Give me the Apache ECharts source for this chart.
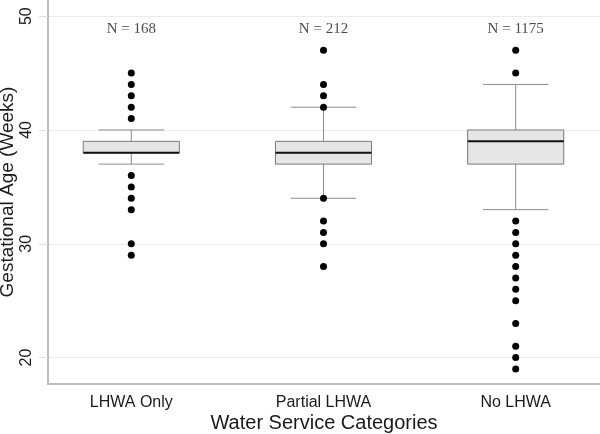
<!DOCTYPE html>
<html>
<head>
<meta charset="utf-8">
<script src="https://cdn.jsdelivr.net/npm/echarts@6/dist/echarts.min.js"></script>
<style>
  html, body { margin: 0; padding: 0; background: #fff; }
  #main { width: 600px; height: 434px; }
</style>
</head>
<body>
<div id="main"></div>
<script>
// values (weeks)
const categories = ['LHWA Only', 'Partial LHWA', 'No LHWA'];
const counts = [168, 212, 1175];
const whiskerLow = [37, 34, 33];
const q1 = [38, 37, 37];
const median = [38, 38, 39];
const q3 = [39, 39, 40];
const whiskerHigh = [40, 42, 44];
const outliers = [
  [45, 44, 43, 42, 41, 36, 35, 34, 33, 30, 29],
  [47, 44, 43, 42, 34, 32, 31, 30, 28],
  [47, 45, 32, 31, 30, 29, 28, 27, 26, 25, 23, 21, 20, 19]
];
const yTicks = [20, 30, 40, 50];

const boxData = categories.map((c, i) =>
  [i + 1, whiskerLow[i], q1[i], median[i], q3[i], whiskerHigh[i]]);
const dotData = [];
outliers.forEach((arr, i) => arr.forEach(v => dotData.push([i + 1, v])));

const boxHalf = 0.25, capHalf = 0.17;
const nLabelY = 48.86;

function renderBox(params, api) {
  const x = api.value(0);
  const lo = api.value(1), b1 = api.value(2), md = api.value(3),
        b3 = api.value(4), hi = api.value(5);
  const c = (xx, yy) => api.coord([xx, yy]);
  const whisk = { stroke: '#8c8c8c', lineWidth: 1 };
  const top = c(x - boxHalf, b3), bot = c(x + boxHalf, b1);
  const line = (a, b, style) => ({
    type: 'line',
    shape: { x1: a[0], y1: a[1], x2: b[0], y2: b[1] },
    style: style
  });
  return {
    type: 'group',
    children: [
      line(c(x, hi), c(x, b3), whisk),
      line(c(x, b1), c(x, lo), whisk),
      line(c(x - capHalf, hi), c(x + capHalf, hi), whisk),
      line(c(x - capHalf, lo), c(x + capHalf, lo), whisk),
      {
        type: 'rect',
        shape: { x: top[0], y: top[1], width: bot[0] - top[0], height: bot[1] - top[1] },
        style: { fill: '#e5e5e5', stroke: '#7a7a7a', lineWidth: 1 }
      },
      line(c(x - boxHalf, md), c(x + boxHalf, md), { stroke: '#111', lineWidth: 2 })
    ]
  };
}

const chart = echarts.init(document.getElementById('main'));
chart.setOption({
  animation: false,
  grid: { left: 48, right: 0, top: 0, bottom: 50, containLabel: false, outerBoundsMode: 'none' },
  xAxis: {
    type: 'value',
    min: 0.5666,
    max: 3.4386,
    name: 'Water Service Categories',
    nameLocation: 'middle',
    nameGap: 29,
    nameMoveOverlap: false,
    nameTextStyle: { fontFamily: 'Liberation Sans', fontSize: 20, color: '#1a1a1a' },
    axisLine: { show: true, lineStyle: { color: '#bdbdbd', width: 2 } },
    axisTick: { show: false },
    splitLine: { show: false },
    axisLabel: {
      customValues: [1, 2, 3],
      formatter: v => categories[Math.round(v) - 1],
      fontFamily: 'Liberation Sans', fontSize: 16, color: '#1a1a1a', margin: 11
    }
  },
  yAxis: {
    type: 'value',
    min: 17.68,
    max: 51.42,
    name: 'Gestational Age (Weeks)',
    nameLocation: 'middle',
    nameGap: 31,
    nameMoveOverlap: false,
    nameTextStyle: { fontFamily: 'Liberation Sans', fontSize: 19, color: '#1a1a1a' },
    axisLine: { show: true, lineStyle: { color: '#bdbdbd', width: 2 } },
    axisTick: { show: true, customValues: yTicks, length: 9, lineStyle: { color: '#dedede' } },
    splitLine: { show: true, customValues: yTicks, lineStyle: { color: '#ebebeb', width: 1 } },
    axisLabel: {
      customValues: yTicks,
      rotate: 90,
      fontFamily: 'Liberation Sans', fontSize: 16, color: '#1a1a1a', margin: 13
    }
  },
  series: [
    {
      type: 'custom',
      renderItem: renderBox,
      encode: { x: 0, y: [1, 2, 3, 4, 5] },
      data: boxData,
      z: 2
    },
    {
      type: 'scatter',
      data: dotData,
      symbol: 'circle',
      symbolSize: 7,
      itemStyle: { color: '#000', opacity: 1 },
      z: 3
    },
    {
      type: 'scatter',
      data: counts.map((n, i) => [i + 1, nLabelY, n]),
      symbolSize: 0,
      label: {
        show: true,
        position: 'inside',
        formatter: p => 'N = ' + p.value[2],
        fontFamily: 'Liberation Serif', fontSize: 15, color: '#1a1a1a'
      },
      z: 4
    }
  ]
});
</script>
</body>
</html>
